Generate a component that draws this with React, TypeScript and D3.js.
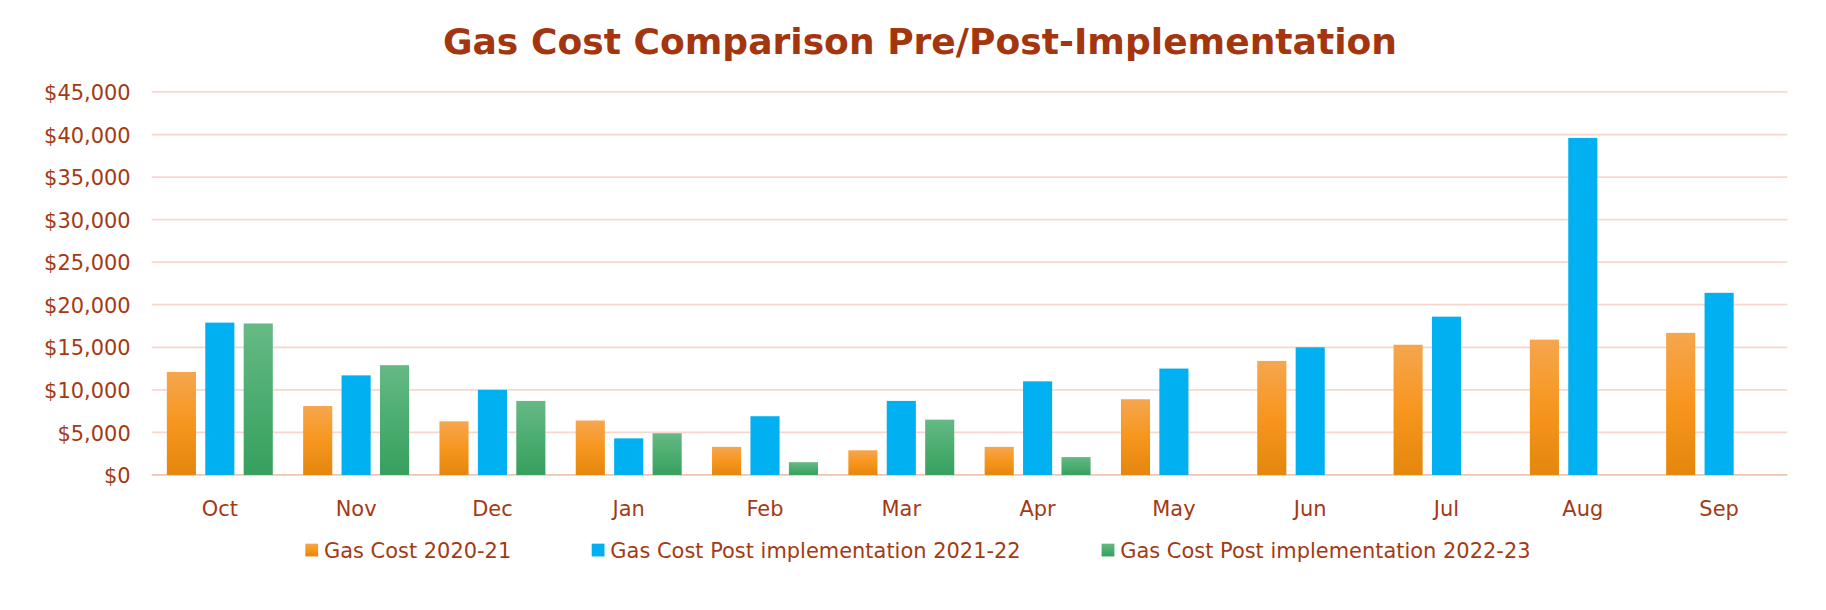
import React from 'react';
import * as d3 from 'd3';

const months = ['Oct', 'Nov', 'Dec', 'Jan', 'Feb', 'Mar', 'Apr', 'May', 'Jun', 'Jul', 'Aug', 'Sep'];
const cost2021 = [12100, 8100, 6300, 6400, 3300, 2900, 3300, 8900, 13400, 15300, 15900, 16700];
const cost2122 = [17900, 11700, 10000, 4300, 6900, 8700, 11000, 12500, 15000, 18600, 39600, 21400];
const cost2223: (number | null)[] = [17800, 12900, 8700, 4900, 1500, 6500, 2100, null, null, null, null, null];
const seriesNames = ['Gas Cost 2020-21', 'Gas Cost Post implementation 2021-22', 'Gas Cost Post implementation 2022-23'];
const yTicks = [0, 5000, 10000, 15000, 20000, 25000, 30000, 35000, 40000, 45000];

// drawing coordinates are in a 1568x524 space, scaled up to the 1826x610 page
const VW = 1568, VH = 524;
const left = 130, right = 1535, top = 79, bottom = 408;
const font = '"DejaVu Sans", Verdana, sans-serif';
const textColor = '#a33a14';

const App = () => {
  const x = d3.scaleBand<string>().domain(months).range([left, right]);
  const y = d3.scaleLinear().domain([0, 45000]).range([bottom, top]);
  const bw = 25, gap = 8;
  const series = [cost2021, cost2122, cost2223];
  const fills = ['url(#gOrange)', '#00b0f0', 'url(#gGreen)'];
  const fmt = (v: number) => '$' + d3.format(',')(v);
  const legendX = [262, 508, 946];
  return (
    <svg width={1826} height={610} viewBox={`0 0 ${VW} ${VH}`}
      style={{ fontFamily: font, position: 'absolute', left: 0, top: 0 }}>
      <defs>
        <linearGradient id="gOrange" x1="0" y1="0" x2="0" y2="1">
          <stop offset="0" stopColor="#f5a64e" />
          <stop offset="0.5" stopColor="#f7961e" />
          <stop offset="1" stopColor="#e5870c" />
        </linearGradient>
        <linearGradient id="gGreen" x1="0" y1="0" x2="0" y2="1">
          <stop offset="0" stopColor="#66b985" />
          <stop offset="0.5" stopColor="#4cad70" />
          <stop offset="1" stopColor="#36a05e" />
        </linearGradient>
      </defs>
      <text x={790} y={46} textAnchor="middle" fontSize={31} fontWeight="bold" fill="#a3360f">
        Gas Cost Comparison Pre/Post-Implementation
      </text>
      {yTicks.map(t => (
        <g key={t}>
          <line x1={left} x2={right} y1={y(t)} y2={y(t)} stroke={t === 0 ? '#f0c4b4' : '#f8d8ce'} strokeWidth={1.5} />
          <text x={left - 18} y={y(t) + 7} textAnchor="end" fontSize={18} fill={textColor}>{fmt(t)}</text>
        </g>
      ))}
      {months.map((m, i) => {
        const cx = (x(m) as number) + x.bandwidth() / 2;
        return (
          <g key={m}>
            {series.map((s, k) => {
              const v = s[i];
              if (v == null) return null;
              const bx = cx - bw / 2 + (k - 1) * (bw + gap);
              return <rect key={k} x={bx} y={y(v)} width={bw} height={bottom - y(v)} fill={fills[k]} />;
            })}
            <text x={cx} y={bottom + 35} textAnchor="middle" fontSize={18} fill={textColor}>{m}</text>
          </g>
        );
      })}
      {seriesNames.map((n, k) => (
        <g key={n}>
          <rect x={legendX[k]} y={467} width={11} height={11} fill={fills[k]} />
          <text x={legendX[k] + 16} y={479} fontSize={18} fill={textColor}>{n}</text>
        </g>
      ))}
    </svg>
  );
};

export default App;
